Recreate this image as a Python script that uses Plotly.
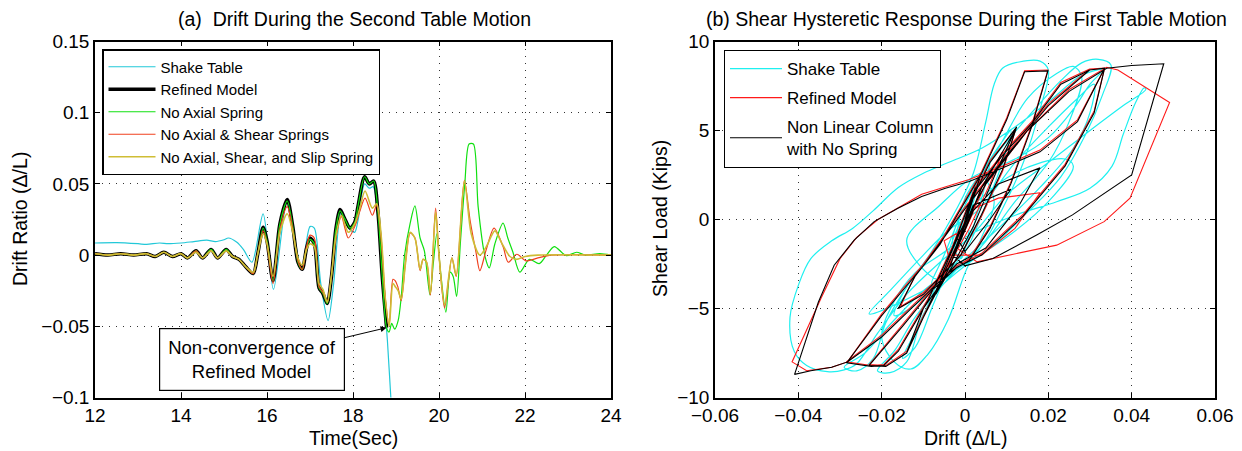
import plotly.graph_objects as go

FONT = "Liberation Sans, Arial, Helvetica, sans-serif"

# ---------------- (a) drift time histories ----------------
shake_t = [12.0, 12.5, 13.0, 13.2, 13.5, 13.7, 14.0, 14.3, 14.6, 14.8, 15.0, 15.1, 15.3, 15.45,
           15.65, 15.91, 16.15, 16.47, 16.8, 17.0, 17.1, 17.25, 17.42, 17.55, 17.73, 17.93,
           18.04, 18.12, 18.27, 18.38, 18.47, 18.58, 18.7, 18.8, 18.88, 18.95]
shake_v = [0.0085, 0.0088, 0.008, 0.0075, 0.0085, 0.008, 0.0085, 0.0095, 0.0105, 0.0095, 0.0108,
           0.012, 0.009, 0.004, -0.005, 0.029, -0.024, 0.038, -0.010, 0.020, 0.019, -0.020,
           -0.046, -0.020, 0.030, 0.018, 0.016, 0.025, 0.050, 0.047, 0.048, 0.028, -0.020,
           -0.060, -0.100, -0.130]

refined_t = [12.0, 12.3, 12.6, 12.9, 13.2, 13.4, 13.6, 13.8, 14.0, 14.15, 14.35, 14.5, 14.7,
             14.85, 15.05, 15.2, 15.35, 15.5, 15.68, 15.78, 15.91, 16.0, 16.14, 16.3, 16.47,
             16.6, 16.72, 16.82, 16.92, 17.0, 17.1, 17.21, 17.3, 17.4, 17.5, 17.6, 17.7,
             17.8, 17.93, 18.04, 18.12, 18.27, 18.38, 18.48, 18.58, 18.68, 18.78]
refined_v = [0.001, 0.0, 0.001, 0.0, 0.001, -0.001, 0.002, -0.001, 0.001, -0.002, 0.003,
             -0.002, 0.004, -0.002, 0.004, -0.001, -0.003, -0.008, -0.013, 0.0, 0.0195, 0.010,
             -0.018, 0.022, 0.039, 0.020, -0.005, -0.010, 0.005, 0.012, 0.008, -0.023, -0.027,
             -0.034, -0.015, 0.018, 0.032, 0.026, 0.019, 0.023, 0.035, 0.055, 0.050, 0.052,
             0.030, -0.015, -0.051]

noaxial_t = [12.0, 12.3, 12.6, 12.9, 13.2, 13.4, 13.6, 13.8, 14.0, 14.15, 14.35, 14.5, 14.7,
             14.85, 15.05, 15.2, 15.35, 15.5, 15.68, 15.78, 15.91, 16.0, 16.14, 16.3, 16.47,
             16.6, 16.72, 16.82, 16.92, 17.0, 17.1, 17.21, 17.3, 17.4, 17.5, 17.6, 17.7,
             17.8, 17.93, 18.04, 18.12, 18.27, 18.38, 18.48, 18.58, 18.68, 18.78, 18.84,
             18.9, 18.97, 19.05, 19.12, 19.2, 19.33, 19.44, 19.56, 19.66, 19.79, 19.87, 19.95,
             20.03, 20.16, 20.26, 20.33, 20.41, 20.5, 20.6, 20.7, 20.8, 20.91, 21.07, 21.17,
             21.3, 21.49, 21.6, 21.72, 21.88, 22.1, 22.33, 22.5, 22.68, 22.96, 23.2, 23.4,
             23.74, 24.0]
noaxial_v = [0.001, 0.0, 0.001, 0.0, 0.001, -0.001, 0.002, -0.001, 0.001, -0.002, 0.003,
             -0.002, 0.004, -0.002, 0.004, -0.001, -0.003, -0.008, -0.013, 0.0, 0.019, 0.010,
             -0.018, 0.022, 0.038, 0.020, -0.005, -0.010, 0.005, 0.011, 0.008, -0.023,
             -0.027, -0.034, -0.015, 0.018, 0.031, 0.026, 0.019, 0.023, 0.035, 0.055, 0.050,
             0.052, 0.030, -0.015, -0.051, -0.054, -0.048, -0.052, -0.046, -0.030, 0.0,
             0.0225, 0.0345, 0.012, 0.003, -0.028, -0.005, 0.015, -0.010, -0.040, -0.012,
             -0.015, -0.029, 0.010, 0.050, 0.078, 0.078, 0.034, -0.001, -0.009, 0.008,
             0.0225, 0.012, 0.002, -0.012, -0.003, -0.006, 0.0, 0.006, -0.0004, 0.002, 0.0,
             0.001, 0.0]

noshear_t = [12.0, 12.3, 12.6, 12.9, 13.2, 13.4, 13.6, 13.8, 14.0, 14.15, 14.35, 14.5, 14.7,
             14.85, 15.05, 15.2, 15.35, 15.5, 15.68, 15.78, 15.91, 16.0, 16.14, 16.3, 16.47,
             16.6, 16.72, 16.82, 16.92, 17.0, 17.1, 17.21, 17.3, 17.4, 17.5, 17.6, 17.73,
             17.89, 18.04, 18.15, 18.28, 18.45, 18.55, 18.66, 18.75, 18.84, 18.93, 18.98,
             19.04, 19.12, 19.22, 19.33, 19.44, 19.56, 19.63, 19.71, 19.8, 19.92, 20.0, 20.13,
             20.3, 20.4, 20.59, 20.72, 20.86, 20.95, 21.1, 21.28, 21.49, 21.61, 21.81, 22.02,
             22.3, 22.6, 24.0]
noshear_v = [0.001, 0.0, 0.001, 0.0, 0.001, -0.001, 0.002, -0.001, 0.001, -0.002, 0.003,
             -0.002, 0.003, -0.002, 0.003, -0.001, -0.003, -0.008, -0.013, 0.0, 0.017, 0.008,
             -0.020, 0.018, 0.034, 0.018, -0.004, -0.010, 0.006, 0.014, 0.012, -0.022,
             -0.026, -0.033, -0.014, 0.012, 0.027, 0.012, 0.020, 0.030, 0.040, 0.028, 0.035,
             0.010, -0.030, -0.049, -0.017, -0.018, -0.022, -0.032, -0.005, 0.0155, 0.012,
             -0.011, -0.003, -0.005, -0.028, 0.033, 0.0, -0.037, -0.002, -0.015, 0.0525,
             0.025, 0.002, -0.011, 0.004, 0.019, 0.006, -0.005, 0.0006, -0.004, -0.002, 0.0,
             0.0]

noslip_t = [12.0, 12.3, 12.6, 12.9, 13.2, 13.4, 13.6, 13.8, 14.0, 14.15, 14.35, 14.5, 14.7,
            14.85, 15.05, 15.2, 15.35, 15.5, 15.68, 15.78, 15.91, 16.0, 16.14, 16.3, 16.47,
            16.6, 16.72, 16.82, 16.92, 17.0, 17.1, 17.21, 17.3, 17.4, 17.5, 17.6, 17.73,
            17.89, 18.04, 18.15, 18.28, 18.45, 18.55, 18.66, 18.75, 18.84, 18.93, 18.98,
            19.05, 19.12, 19.22, 19.33, 19.44, 19.56, 19.63, 19.71, 19.8, 19.92, 20.0, 20.13,
            20.3, 20.4, 20.59, 20.75, 20.95, 21.1, 21.3, 21.45, 21.65, 21.8, 22.0, 22.3,
            24.0]
noslip_v = [0.001, 0.0, 0.001, 0.0, 0.001, -0.001, 0.002, -0.001, 0.001, -0.002, 0.002,
            -0.002, 0.003, -0.002, 0.003, -0.001, -0.003, -0.008, -0.012, 0.0, 0.015, 0.008,
            -0.015, 0.016, 0.029, 0.016, -0.002, -0.007, 0.004, 0.008, 0.006, -0.020,
            -0.024, -0.033, -0.014, 0.013, 0.028, 0.016, 0.022, 0.032, 0.045, 0.033, 0.036,
            0.012, -0.030, -0.050, -0.020, -0.022, -0.025, -0.031, -0.006, 0.016, 0.012,
            -0.010, -0.003, -0.005, -0.027, 0.030, 0.0, -0.035, -0.002, -0.014, 0.052,
            0.015, 0.0, 0.006, 0.017, 0.009, -0.001, -0.003, -0.001, 0.0, 0.0]

time_ticks = [12, 14, 16, 18, 20, 22, 24]
time_ticktext = ["12", "14", "16", "18", "20", "22", "24"]
drift_ticks = [-0.1, -0.05, 0, 0.05, 0.1, 0.15]
drift_ticktext = ["\u22120.1", "\u22120.05", "0", "0.05", "0.1", "0.15"]

# ---------------- (b) shear hysteresis ----------------
table_drift = [0.000, 0.002, 0.001, -0.002, -0.001, 0.003, 0.001, -0.003, -0.001, 0.004, 0.006,
               0.004, 0.000, -0.004, -0.008, -0.005, 0.000, 0.005, 0.009, 0.011, 0.009, 0.005,
               0.000, -0.006, -0.012, -0.017, -0.015, -0.008, -0.002, 0.002, 0.005, 0.007,
               0.009, 0.013, 0.018, 0.020, 0.018, 0.014, 0.009, 0.003, -0.003, -0.010, -0.018,
               -0.024, -0.029, -0.026, -0.022, -0.019, -0.014, -0.007, 0.000, 0.008, 0.015,
               0.022, 0.026, 0.028, 0.025, 0.020, 0.012, 0.004, -0.002, -0.008, -0.013,
               -0.015, -0.012, -0.008, -0.003, 0.000, 0.008, 0.016,
               0.023, 0.028, 0.032, 0.035, 0.033, 0.029, 0.023, 0.015, 0.006, 0.000, -0.006,
               -0.012, -0.017, -0.021, -0.018, -0.014, -0.011, -0.006, 0.000, 0.012, 0.024,
               0.026, 0.020, 0.010, 0.000, -0.010, -0.023, -0.018, -0.010, -0.004, 0.003,
               0.012, 0.020, 0.027, 0.031, 0.030, 0.026, 0.018, 0.008, 0.000, -0.006,
               -0.014, -0.006, 0.002, 0.012, 0.020, 0.026, 0.030, 0.033, 0.028, 0.020, 0.012,
               0.004, -0.004, -0.010, -0.016, -0.022, -0.027, -0.032, -0.037, -0.040, -0.042,
               -0.041, -0.038, -0.033, -0.029, -0.026, -0.021, -0.014, -0.006, 0.002, 0.010,
               0.020, 0.030, 0.038, 0.0434, 0.043, 0.041, 0.038, 0.0353, 0.030, 0.022, 0.0124,
               0.001, -0.006, -0.012, -0.017, -0.020, -0.017, -0.013, -0.009, -0.004, 0.000,
               0.004, 0.007, 0.004, 0.000, -0.003, -0.001, 0.001]
table_shear = [0.0, 1.4, 0.4, -1.3, -0.3, 2.0, 0.2, -2.0, -0.5, 2.5, 3.4, 1.2, -1.6, -2.8, -3.6,
               -2.0, 0.8, 3.0, 4.4, 5.0, 3.2, 0.8, -1.8, -3.4, -4.8, -5.4, -4.2, -1.8, 0.6, 2.6,
               5.5, 7.6, 8.5, 8.85, 8.9, 8.4, 6.2, 3.2, 0.6, -1.8, -2.8, -4.0, -5.9, -7.5, -8.3,
               -8.5, -7.8, -5.8, -3.8, -1.6, 1.0, 4.0, 6.8,
               8.2, 8.6, 8.0, 5.5, 3.2, 1.0, -1.5, -2.8, -4.5, -6.8,
               -7.8, -7.2, -5.0, -2.0, 1.2, 3.8, 6.0,
               7.8, 8.8, 9.0, 8.7, 7.0, 4.8, 2.4, 0.4, -1.6, -2.6, -3.8, -5.5, -7.4, -8.5,
               -8.6, -8.0, -6.0, -3.2, 0.2, 2.6, 3.4, 3.0, 1.0, -1.0, -2.5, -4.0, -5.3, -4.0,
               -2.0, -0.6, 0.5, 3.2, 5.2, 6.8, 7.6, 6.0, 4.0, 1.8, -0.5, -2.2, -3.4, -1.2,
               0.8, 2.4, 3.4, 4.6, 6.2, 7.6, 8.4, 8.1, 6.6, 5.2, 4.0, 3.2, 2.6, 1.8, 0.5, -0.5,
               -1.2, -2.2, -3.7, -5.5, -7.4, -8.2, -8.55, -8.45, -8.1, -6.4, -4.2, -2.4, -0.8,
               1.4, 3.2, 5.0, 6.4, 7.3, 7.4, 6.6, 4.8, 3.0, 1.76, 1.0, 0.27, -0.87, -2.0, -3.0,
               -4.6, -6.6, -8.0, -8.4, -7.6, -5.6, -3.0, -1.0, 1.0, 2.4, 0.8, -1.2, -2.2, -0.6,
               0.4]

refined_drift = [0.000, 0.0015, -0.001, 0.0025, -0.002, 0.0035, -0.0035, -0.001, 0.002, 0.006,
                 0.0122, 0.009, 0.004, -0.001, -0.005, -0.010, -0.0155, -0.012, -0.006, 0.000,
                 0.004, 0.010, 0.0143, 0.0199, 0.016, 0.011, 0.006, 0.001, -0.004, -0.012,
                 -0.020, -0.0285, -0.0225, -0.0195, -0.016, -0.009, -0.003, 0.002, 0.009,
                 0.016, 0.023, 0.0299, 0.0335, 0.027, 0.018, 0.008, 0.001, -0.0104, -0.0209,
                 -0.026, -0.030, -0.0345, -0.0415, -0.038, -0.032, -0.0282, -0.020, -0.010,
                 0.000, 0.010, 0.020, 0.0299, 0.0335, 0.031, 0.024, 0.014, 0.004, -0.002,
                 -0.008, -0.015, -0.023, -0.019, -0.014, -0.010, -0.004, 0.002, 0.008, 0.018,
                 0.012, 0.004, -0.004, -0.005, 0.000, 0.004, 0.009, 0.006, 0.001, -0.003,
                 -0.007, -0.004, 0.000, 0.005, 0.015, 0.025, 0.034, 0.0367,
                 0.0491, 0.0396, 0.0334, 0.022, 0.0029, -0.002, 0.002, 0.000]
refined_shear = [0.0, 1.2, -0.8, 1.9, -1.6, 2.4, -2.5, -0.8, 1.4, 3.3, 5.1, 2.7, 0.2, -2.0,
                 -3.0, -4.1, -4.9, -3.1, -1.3, 1.1, 2.7, 5.7, 8.35, 8.4, 5.3, 2.1, -0.4, -2.2,
                 -2.9, -4.7, -6.5, -8.0, -8.2, -8.15, -7.3, -4.5, -1.5, 1.6, 3.7, 5.5, 7.7,
                 8.45, 8.5, 5.6, 3.9, 2.9, 2.25, 1.42, 0.0, -1.0, -2.2, -4.4, -8.0, -8.5, -8.3,
                 -8.0, -5.3, -2.5, 0.7, 3.7, 6.5, 8.45, 8.5, 6.1, 3.1, 0.3, -1.9, -2.6, -3.9,
                 -5.9, -8.15, -8.2, -7.4, -5.4, -2.7, 0.6, 1.2, 1.5, -0.5, -2.0, -2.0, -1.2,
                 -0.5, 1.8, 3.8, 2.0, -0.5, -2.2, -3.6, -2.4, -0.5, 2.0, 5.0, 7.3, 8.55, 8.4,
                 6.57, 1.2, -0.12, -1.44, -2.38, -1.6, 0.4, 0.0]

nospring_drift = [0.000, 0.0015, -0.001, 0.0025, -0.002, 0.0035, -0.0035, -0.001, 0.002, 0.006,
                  0.0124, 0.009, 0.004, -0.001, -0.005, -0.010, -0.016, -0.012, -0.006, 0.000,
                  0.004, 0.010, 0.0143, 0.0199, 0.016, 0.011, 0.006, 0.001, -0.004, -0.012,
                  -0.020, -0.0285, -0.0225, -0.0195, -0.016, -0.009, -0.003, 0.002, 0.009,
                  0.016, 0.023, 0.0299, 0.0335, 0.027, 0.018, 0.008, 0.001, -0.0047, -0.0104,
                  -0.0161, -0.0218, -0.0266, -0.0314, -0.0352, -0.0409, -0.037, -0.032,
                  -0.0282, -0.020, -0.010, 0.000, 0.010, 0.020, 0.0299, 0.0335, 0.031, 0.024,
                  0.014, 0.004, -0.002, -0.008, -0.015, -0.023, -0.019, -0.014, -0.010,
                  -0.004, 0.002, 0.008, 0.018, 0.013, 0.005, -0.002, -0.004, -0.010, -0.014,
                  -0.011, -0.006, 0.000, 0.004, 0.009, 0.012, 0.007, 0.002, -0.003, -0.007,
                  -0.005, -0.001, 0.005, 0.015, 0.025, 0.034, 0.040, 0.0477, 0.040,
                  0.0329, 0.0258, 0.0172, 0.0067, 0.000, -0.003, 0.002, 0.011, 0.006, 0.000,
                  -0.002, 0.001]
nospring_shear = [0.0, 1.1, -0.9, 1.8, -1.7, 2.3, -2.6, -0.9, 1.3, 3.2, 5.2, 2.8, 0.3, -2.0,
                  -3.0, -4.2, -5.0, -3.2, -1.4, 1.0, 2.6, 5.6, 8.3, 8.35, 5.2, 2.0, -0.5, -2.3,
                  -3.0, -4.8, -6.6, -8.05, -8.25, -8.2, -7.4, -4.6, -1.6, 1.5, 3.6, 5.4, 7.6,
                  8.4, 8.5, 5.5, 3.8, 2.8, 2.14, 1.76, 1.29, 0.63, -0.12, -1.16, -2.57, -4.65,
                  -8.7, -8.5, -8.3, -8.0, -5.4, -2.6, 0.6, 3.6, 6.4, 8.4, 8.5, 6.0, 3.0, 0.2,
                  -2.0, -2.7, -4.0, -6.0, -8.2, -8.25, -7.5, -5.5, -2.8, 0.5, 2.0, 2.9, 0.8,
                  -1.6, -2.5, -3.0, -5.0, -7.5, -6.0, -3.5, -0.5, 1.8, 3.8, 5.0, 2.4, -0.4,
                  -2.6, -4.2, -2.8, -0.6, 2.0, 5.0, 7.2, 8.5, 8.65,
                  8.75, 2.5, 1.39, 0.26, -0.87, -2.19, -2.6, -2.0, 0.8, 1.7, 0.0, -1.8, -1.0,
                  0.2]

hyst_xticks = [-0.06, -0.04, -0.02, 0, 0.02, 0.04, 0.06]
hyst_xticktext = ["\u22120.06", "\u22120.04", "\u22120.02", "0", "0.02", "0.04", "0.06"]
hyst_yticks = [-10, -5, 0, 5, 10]
hyst_yticktext = ["\u221210", "\u22125", "0", "5", "10"]

fig = go.Figure()

# left panel traces
fig.add_trace(go.Scatter(x=shake_t, y=shake_v, mode="lines", name="Shake Table",
                         line=dict(color="#22c8d8", width=1.2, shape="spline", smoothing=0.8),
                         xaxis="x", yaxis="y", legend="legend"))
fig.add_trace(go.Scatter(x=refined_t, y=refined_v, mode="lines", name="Refined Model",
                         line=dict(color="black", width=3.5, shape="spline", smoothing=0.8),
                         xaxis="x", yaxis="y", legend="legend"))
fig.add_trace(go.Scatter(x=noaxial_t, y=noaxial_v, mode="lines", name="No Axial Spring",
                         line=dict(color="#10e010", width=1.2, shape="spline", smoothing=0.8),
                         xaxis="x", yaxis="y", legend="legend"))
fig.add_trace(go.Scatter(x=noshear_t, y=noshear_v, mode="lines", name="No Axial & Shear Springs",
                         line=dict(color="#f0401e", width=1.2, shape="spline", smoothing=0.8),
                         xaxis="x", yaxis="y", legend="legend"))
fig.add_trace(go.Scatter(x=noslip_t, y=noslip_v, mode="lines",
                         name="No Axial, Shear, and Slip Spring",
                         line=dict(color="#cfbd35", width=1.6, shape="spline", smoothing=0.8),
                         xaxis="x", yaxis="y", legend="legend"))

# right panel traces
fig.add_trace(go.Scatter(x=table_drift, y=table_shear, mode="lines", name="Shake Table",
                         line=dict(color="#1ef0f0", width=1.2, shape="spline", smoothing=1.0),
                         xaxis="x2", yaxis="y2", legend="legend2", legendgroup="a"))
fig.add_trace(go.Scatter(x=refined_drift, y=refined_shear, mode="lines", name="Refined Model",
                         line=dict(color="#ff1a1a", width=1.1),
                         xaxis="x2", yaxis="y2", legend="legend2", legendgroup="b"))
fig.add_trace(go.Scatter(x=nospring_drift, y=nospring_shear, mode="lines",
                         name="Non Linear Column<br>with No Spring",
                         line=dict(color="black", width=1.1),
                         xaxis="x2", yaxis="y2", legend="legend2", legendgroup="c"))

axis_common = dict(showline=True, linecolor="black", linewidth=1.6, mirror="ticks",
                   ticks="inside", ticklen=5, tickcolor="black", showgrid=True,
                   gridcolor="#333333", griddash="1px,6px", gridwidth=1, zeroline=False,
                   automargin=False,
                   tickfont=dict(family=FONT, size=19, color="black"))

y_dom = [(451 - 397.5) / 451, (451 - 41.5) / 451]

fig.update_layout(
    width=1242, height=451,
    margin=dict(l=0, r=0, t=0, b=0, autoexpand=False),
    paper_bgcolor="white", plot_bgcolor="white",
    font=dict(family=FONT, color="black"),
    xaxis=dict(domain=[95 / 1242, 611 / 1242], range=[12, 24], tickvals=time_ticks,
               ticktext=time_ticktext, anchor="y", **axis_common),
    yaxis=dict(domain=y_dom, range=[-0.1, 0.15], tickvals=drift_ticks,
               ticktext=drift_ticktext, anchor="x", **axis_common),
    xaxis2=dict(domain=[715 / 1242, 1215 / 1242], range=[-0.06, 0.06], tickvals=hyst_xticks,
                ticktext=hyst_xticktext, anchor="y2", **axis_common),
    yaxis2=dict(domain=y_dom, range=[-10, 10], tickvals=hyst_yticks,
                ticktext=hyst_yticktext, anchor="x2", **axis_common),
    legend=dict(x=102 / 1242, y=(451 - 49) / 451, xanchor="left", yanchor="top",
                bgcolor="white", bordercolor="black", borderwidth=1.5,
                font=dict(family=FONT, size=15, color="black"), itemwidth=47,
                tracegroupgap=0),
    legend2=dict(x=724 / 1242, y=(451 - 50) / 451, xanchor="left", yanchor="top",
                 bgcolor="white", bordercolor="black", borderwidth=1,
                 font=dict(family=FONT, size=17, color="black"), itemwidth=52,
                 traceorder="grouped", tracegroupgap=4),
    showlegend=True,
)

annotations = [
    dict(text="(a)  Drift During the Second Table Motion", x=354 / 1242, y=(451 - 19) / 451),
    dict(text="(b) Shear Hysteretic Response During the First Table Motion", x=966 / 1242,
         y=(451 - 19) / 451),
    dict(text="Time(Sec)", x=353 / 1242, y=(451 - 438) / 451),
    dict(text="Drift (\u0394/L)", x=965 / 1242, y=(451 - 438) / 451),
    dict(text="Drift Ratio (\u0394/L)", x=20 / 1242, y=(451 - 219) / 451, textangle=-90),
    dict(text="Shear Load (Kips)", x=660 / 1242, y=(451 - 219) / 451, textangle=-90),
]
for a in annotations:
    a.update(xref="paper", yref="paper", xanchor="center", yanchor="middle",
             showarrow=False, font=dict(size=19.5, family=FONT, color="black"))

annotations.append(
    dict(text="Non-convergence of<br>Refined Model", x=18.78, y=-0.051, xref="x", yref="y",
         ax=15.64, ay=-0.0735, axref="x", ayref="y", showarrow=True, arrowhead=2,
         arrowsize=1.2, arrowwidth=1, arrowcolor="black", bgcolor="white",
         bordercolor="black", borderwidth=1.2, borderpad=8,
         font=dict(size=18.5, family=FONT, color="black")))
fig.update_layout(annotations=annotations)

fig.write_html("out.html")
